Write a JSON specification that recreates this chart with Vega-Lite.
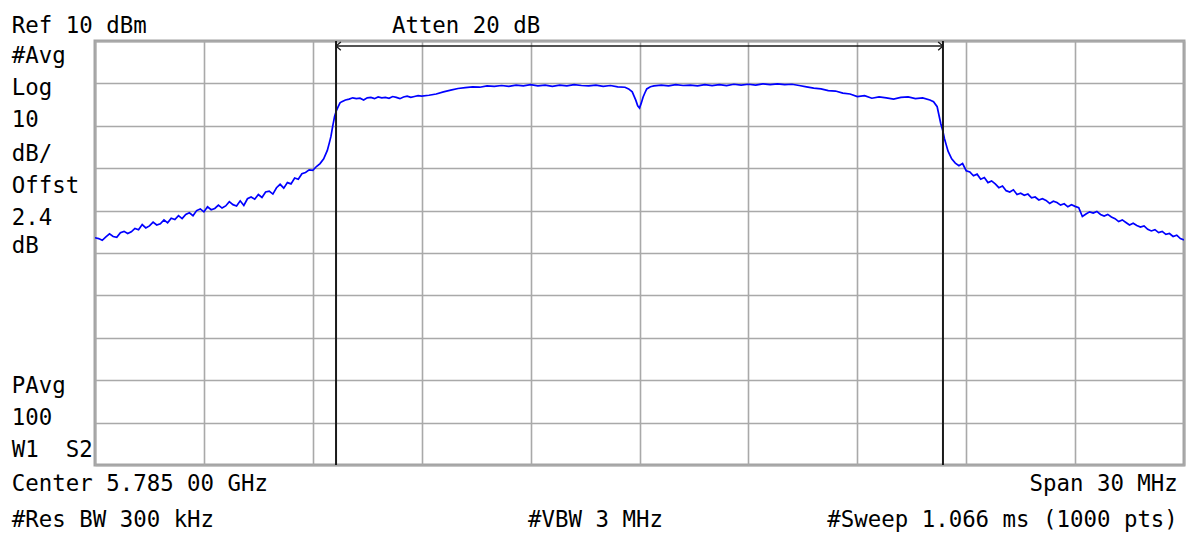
{
  "$schema": "https://vega.github.io/schema/vega-lite/v6.json",
  "width": 1089,
  "height": 424,
  "autosize": {"type": "none"},
  "padding": {"left": 95, "top": 41, "right": 2, "bottom": 69},
  "background": "white",
  "config": {
    "view": {"stroke": "#a3a3a3", "strokeWidth": 3},
    "axis": {"labels": false, "ticks": false, "domain": false, "title": null, "grid": true, "gridColor": "#a9a9a9", "gridWidth": 1.6, "gridOpacity": 1}
  },
  "datasets": {
    "trace": [
      {"mhz": 5770.0, "dbm": -36.4}, {"mhz": 5770.1, "dbm": -36.6}, {"mhz": 5770.2, "dbm": -37.0}, {"mhz": 5770.3, "dbm": -36.2},
      {"mhz": 5770.4, "dbm": -35.5}, {"mhz": 5770.5, "dbm": -36.1}, {"mhz": 5770.6, "dbm": -36.3}, {"mhz": 5770.7, "dbm": -35.2},
      {"mhz": 5770.8, "dbm": -34.9}, {"mhz": 5770.9, "dbm": -35.4}, {"mhz": 5771.0, "dbm": -35.0}, {"mhz": 5771.1, "dbm": -34.2},
      {"mhz": 5771.2, "dbm": -34.5}, {"mhz": 5771.3, "dbm": -33.3}, {"mhz": 5771.4, "dbm": -34.1}, {"mhz": 5771.5, "dbm": -33.6},
      {"mhz": 5771.6, "dbm": -32.7}, {"mhz": 5771.7, "dbm": -33.4}, {"mhz": 5771.8, "dbm": -33.1}, {"mhz": 5771.9, "dbm": -32.2},
      {"mhz": 5772.0, "dbm": -32.9}, {"mhz": 5772.1, "dbm": -31.8}, {"mhz": 5772.2, "dbm": -32.1}, {"mhz": 5772.3, "dbm": -31.2},
      {"mhz": 5772.4, "dbm": -31.9}, {"mhz": 5772.5, "dbm": -30.9}, {"mhz": 5772.6, "dbm": -30.5}, {"mhz": 5772.7, "dbm": -31.2},
      {"mhz": 5772.8, "dbm": -30.0}, {"mhz": 5772.9, "dbm": -29.6}, {"mhz": 5773.0, "dbm": -30.3}, {"mhz": 5773.1, "dbm": -29.1},
      {"mhz": 5773.2, "dbm": -29.8}, {"mhz": 5773.3, "dbm": -29.5}, {"mhz": 5773.4, "dbm": -28.7}, {"mhz": 5773.5, "dbm": -29.4},
      {"mhz": 5773.6, "dbm": -28.9}, {"mhz": 5773.7, "dbm": -27.9}, {"mhz": 5773.8, "dbm": -28.6}, {"mhz": 5773.9, "dbm": -28.9},
      {"mhz": 5774.0, "dbm": -27.7}, {"mhz": 5774.1, "dbm": -28.8}, {"mhz": 5774.2, "dbm": -27.2}, {"mhz": 5774.3, "dbm": -26.8},
      {"mhz": 5774.4, "dbm": -27.3}, {"mhz": 5774.5, "dbm": -26.2}, {"mhz": 5774.6, "dbm": -26.9}, {"mhz": 5774.7, "dbm": -25.6},
      {"mhz": 5774.8, "dbm": -25.4}, {"mhz": 5774.9, "dbm": -26.1}, {"mhz": 5775.0, "dbm": -24.6}, {"mhz": 5775.1, "dbm": -23.8},
      {"mhz": 5775.2, "dbm": -24.7}, {"mhz": 5775.3, "dbm": -23.4}, {"mhz": 5775.4, "dbm": -23.7}, {"mhz": 5775.5, "dbm": -22.3},
      {"mhz": 5775.6, "dbm": -22.6}, {"mhz": 5775.7, "dbm": -21.3}, {"mhz": 5775.8, "dbm": -21.0}, {"mhz": 5775.9, "dbm": -20.4},
      {"mhz": 5776.0, "dbm": -20.5}, {"mhz": 5776.1, "dbm": -19.6}, {"mhz": 5776.2, "dbm": -18.9}, {"mhz": 5776.3, "dbm": -17.8},
      {"mhz": 5776.4, "dbm": -15.8}, {"mhz": 5776.45, "dbm": -14.2}, {"mhz": 5776.5, "dbm": -12.5}, {"mhz": 5776.55, "dbm": -10.0},
      {"mhz": 5776.6, "dbm": -7.8}, {"mhz": 5776.65, "dbm": -6.4}, {"mhz": 5776.7, "dbm": -5.5}, {"mhz": 5776.75, "dbm": -4.6},
      {"mhz": 5776.8, "dbm": -4.3}, {"mhz": 5776.9, "dbm": -3.9}, {"mhz": 5777.0, "dbm": -3.7}, {"mhz": 5777.1, "dbm": -3.4},
      {"mhz": 5777.2, "dbm": -3.6}, {"mhz": 5777.3, "dbm": -3.5}, {"mhz": 5777.4, "dbm": -3.9}, {"mhz": 5777.5, "dbm": -3.4},
      {"mhz": 5777.6, "dbm": -3.3}, {"mhz": 5777.7, "dbm": -3.6}, {"mhz": 5777.8, "dbm": -3.2}, {"mhz": 5777.9, "dbm": -3.4},
      {"mhz": 5778.0, "dbm": -3.3}, {"mhz": 5778.1, "dbm": -3.5}, {"mhz": 5778.2, "dbm": -3.1}, {"mhz": 5778.3, "dbm": -3.3},
      {"mhz": 5778.4, "dbm": -3.6}, {"mhz": 5778.5, "dbm": -3.2}, {"mhz": 5778.6, "dbm": -3.0}, {"mhz": 5778.7, "dbm": -3.3},
      {"mhz": 5778.8, "dbm": -3.1}, {"mhz": 5778.9, "dbm": -2.9}, {"mhz": 5779.0, "dbm": -3.0}, {"mhz": 5779.2, "dbm": -2.8},
      {"mhz": 5779.4, "dbm": -2.5}, {"mhz": 5779.6, "dbm": -2.0}, {"mhz": 5779.8, "dbm": -1.6}, {"mhz": 5780.0, "dbm": -1.2},
      {"mhz": 5780.2, "dbm": -1.0}, {"mhz": 5780.4, "dbm": -0.8}, {"mhz": 5780.6, "dbm": -0.9}, {"mhz": 5780.8, "dbm": -0.6},
      {"mhz": 5781.0, "dbm": -0.7}, {"mhz": 5781.2, "dbm": -0.5}, {"mhz": 5781.4, "dbm": -0.7}, {"mhz": 5781.6, "dbm": -0.4},
      {"mhz": 5781.8, "dbm": -0.6}, {"mhz": 5782.0, "dbm": -0.3}, {"mhz": 5782.2, "dbm": -0.6}, {"mhz": 5782.4, "dbm": -0.4},
      {"mhz": 5782.6, "dbm": -0.7}, {"mhz": 5782.8, "dbm": -0.4}, {"mhz": 5783.0, "dbm": -0.6}, {"mhz": 5783.2, "dbm": -0.3},
      {"mhz": 5783.4, "dbm": -0.5}, {"mhz": 5783.6, "dbm": -0.6}, {"mhz": 5783.8, "dbm": -0.4}, {"mhz": 5784.0, "dbm": -0.7},
      {"mhz": 5784.2, "dbm": -0.5}, {"mhz": 5784.4, "dbm": -0.8}, {"mhz": 5784.6, "dbm": -0.9}, {"mhz": 5784.7, "dbm": -1.3},
      {"mhz": 5784.8, "dbm": -2.0}, {"mhz": 5784.85, "dbm": -3.0}, {"mhz": 5784.9, "dbm": -4.0}, {"mhz": 5784.95, "dbm": -5.3},
      {"mhz": 5785.0, "dbm": -5.8}, {"mhz": 5785.05, "dbm": -4.6}, {"mhz": 5785.1, "dbm": -3.2}, {"mhz": 5785.15, "dbm": -2.2},
      {"mhz": 5785.2, "dbm": -1.3}, {"mhz": 5785.3, "dbm": -0.8}, {"mhz": 5785.4, "dbm": -0.6}, {"mhz": 5785.6, "dbm": -0.4},
      {"mhz": 5785.8, "dbm": -0.6}, {"mhz": 5786.0, "dbm": -0.3}, {"mhz": 5786.2, "dbm": -0.5}, {"mhz": 5786.4, "dbm": -0.4},
      {"mhz": 5786.6, "dbm": -0.6}, {"mhz": 5786.8, "dbm": -0.3}, {"mhz": 5787.0, "dbm": -0.5}, {"mhz": 5787.2, "dbm": -0.3},
      {"mhz": 5787.4, "dbm": -0.5}, {"mhz": 5787.6, "dbm": -0.2}, {"mhz": 5787.8, "dbm": -0.4}, {"mhz": 5788.0, "dbm": -0.2},
      {"mhz": 5788.2, "dbm": -0.4}, {"mhz": 5788.4, "dbm": -0.1}, {"mhz": 5788.6, "dbm": -0.3}, {"mhz": 5788.8, "dbm": -0.1},
      {"mhz": 5789.0, "dbm": -0.3}, {"mhz": 5789.2, "dbm": -0.2}, {"mhz": 5789.4, "dbm": -0.5}, {"mhz": 5789.6, "dbm": -0.8},
      {"mhz": 5789.8, "dbm": -1.1}, {"mhz": 5790.0, "dbm": -1.3}, {"mhz": 5790.2, "dbm": -1.7}, {"mhz": 5790.4, "dbm": -1.8},
      {"mhz": 5790.6, "dbm": -2.3}, {"mhz": 5790.8, "dbm": -2.5}, {"mhz": 5791.0, "dbm": -3.1}, {"mhz": 5791.2, "dbm": -2.9},
      {"mhz": 5791.4, "dbm": -3.5}, {"mhz": 5791.6, "dbm": -3.2}, {"mhz": 5791.8, "dbm": -3.4}, {"mhz": 5792.0, "dbm": -3.7},
      {"mhz": 5792.2, "dbm": -3.3}, {"mhz": 5792.4, "dbm": -3.2}, {"mhz": 5792.6, "dbm": -3.6}, {"mhz": 5792.8, "dbm": -3.4},
      {"mhz": 5793.0, "dbm": -3.9}, {"mhz": 5793.1, "dbm": -4.3}, {"mhz": 5793.2, "dbm": -5.5}, {"mhz": 5793.25, "dbm": -7.5},
      {"mhz": 5793.3, "dbm": -9.5}, {"mhz": 5793.35, "dbm": -11.0}, {"mhz": 5793.4, "dbm": -13.0}, {"mhz": 5793.45, "dbm": -14.5},
      {"mhz": 5793.5, "dbm": -16.0}, {"mhz": 5793.6, "dbm": -17.8}, {"mhz": 5793.7, "dbm": -18.8}, {"mhz": 5793.8, "dbm": -19.4},
      {"mhz": 5793.9, "dbm": -18.9}, {"mhz": 5794.0, "dbm": -20.6}, {"mhz": 5794.1, "dbm": -20.9}, {"mhz": 5794.2, "dbm": -21.8},
      {"mhz": 5794.3, "dbm": -21.4}, {"mhz": 5794.4, "dbm": -22.6}, {"mhz": 5794.5, "dbm": -22.2}, {"mhz": 5794.6, "dbm": -23.4},
      {"mhz": 5794.7, "dbm": -23.0}, {"mhz": 5794.8, "dbm": -23.7}, {"mhz": 5794.9, "dbm": -24.6}, {"mhz": 5795.0, "dbm": -24.2},
      {"mhz": 5795.1, "dbm": -25.3}, {"mhz": 5795.2, "dbm": -25.6}, {"mhz": 5795.3, "dbm": -25.1}, {"mhz": 5795.4, "dbm": -26.2},
      {"mhz": 5795.5, "dbm": -25.9}, {"mhz": 5795.6, "dbm": -26.4}, {"mhz": 5795.7, "dbm": -26.1}, {"mhz": 5795.8, "dbm": -27.0},
      {"mhz": 5795.9, "dbm": -26.8}, {"mhz": 5796.0, "dbm": -27.5}, {"mhz": 5796.1, "dbm": -27.2}, {"mhz": 5796.2, "dbm": -27.6},
      {"mhz": 5796.3, "dbm": -28.3}, {"mhz": 5796.4, "dbm": -27.8}, {"mhz": 5796.5, "dbm": -28.1}, {"mhz": 5796.6, "dbm": -28.7},
      {"mhz": 5796.7, "dbm": -28.4}, {"mhz": 5796.8, "dbm": -29.1}, {"mhz": 5796.9, "dbm": -28.6}, {"mhz": 5797.0, "dbm": -29.0},
      {"mhz": 5797.1, "dbm": -29.3}, {"mhz": 5797.2, "dbm": -31.4}, {"mhz": 5797.3, "dbm": -30.8}, {"mhz": 5797.4, "dbm": -30.3},
      {"mhz": 5797.5, "dbm": -30.6}, {"mhz": 5797.6, "dbm": -30.2}, {"mhz": 5797.7, "dbm": -30.9}, {"mhz": 5797.8, "dbm": -31.3},
      {"mhz": 5797.9, "dbm": -30.9}, {"mhz": 5798.0, "dbm": -31.5}, {"mhz": 5798.1, "dbm": -31.9}, {"mhz": 5798.2, "dbm": -32.6},
      {"mhz": 5798.3, "dbm": -32.2}, {"mhz": 5798.4, "dbm": -32.8}, {"mhz": 5798.5, "dbm": -33.4}, {"mhz": 5798.6, "dbm": -33.0},
      {"mhz": 5798.7, "dbm": -33.5}, {"mhz": 5798.8, "dbm": -33.9}, {"mhz": 5798.9, "dbm": -33.6}, {"mhz": 5799.0, "dbm": -34.4},
      {"mhz": 5799.1, "dbm": -34.8}, {"mhz": 5799.2, "dbm": -34.5}, {"mhz": 5799.3, "dbm": -35.2}, {"mhz": 5799.4, "dbm": -34.9},
      {"mhz": 5799.5, "dbm": -35.6}, {"mhz": 5799.6, "dbm": -35.4}, {"mhz": 5799.7, "dbm": -36.1}, {"mhz": 5799.8, "dbm": -35.8},
      {"mhz": 5799.9, "dbm": -36.6}, {"mhz": 5800.0, "dbm": -36.9}
    ],
    "markers": [{"mhz": 5776.64}, {"mhz": 5793.36}],
    "bar": [{"start": 5776.64, "end": 5793.36, "dbm": 8.8}],
    "labels_left": [
      {"label": "Ref 10 dBm", "mhz": 5767.71, "dbm": 11.89},
      {"label": "Atten 20 dB", "mhz": 5778.18, "dbm": 11.89},
      {"label": "#Avg", "mhz": 5767.71, "dbm": 4.81},
      {"label": "Log", "mhz": 5767.71, "dbm": -2.74},
      {"label": "10", "mhz": 5767.71, "dbm": -10.28},
      {"label": "dB/", "mhz": 5767.71, "dbm": -18.3},
      {"label": "Offst", "mhz": 5767.71, "dbm": -25.85},
      {"label": "2.4", "mhz": 5767.71, "dbm": -33.4},
      {"label": "dB", "mhz": 5767.71, "dbm": -40.0},
      {"label": "PAvg", "mhz": 5767.71, "dbm": -73.02},
      {"label": "100", "mhz": 5767.71, "dbm": -80.57},
      {"label": "W1\u00a0\u00a0S2", "mhz": 5767.71, "dbm": -88.11},
      {"label": "Center 5.785 00 GHz", "mhz": 5767.71, "dbm": -96.13},
      {"label": "#Res BW 300 kHz", "mhz": 5767.71, "dbm": -104.62},
      {"label": "#VBW 3 MHz", "mhz": 5781.93, "dbm": -104.62}
    ],
    "labels_right": [
      {"label": "Span 30 MHz", "mhz": 5799.83, "dbm": -96.13},
      {"label": "#Sweep 1.066 ms (1000 pts)", "mhz": 5799.83, "dbm": -104.62}
    ]
  },
  "layer": [
    {
      "data": {"name": "trace"},
      "mark": {"type": "line", "stroke": "#0000ff", "strokeWidth": 1.7, "clip": true},
      "encoding": {
        "x": {"field": "mhz", "type": "quantitative", "scale": {"domain": [5770, 5800], "nice": false, "zero": false},
              "axis": {"values": [5770, 5773, 5776, 5779, 5782, 5785, 5788, 5791, 5794, 5797, 5800], "grid": true, "labels": false, "ticks": false, "domain": false, "title": null}},
        "y": {"field": "dbm", "type": "quantitative", "scale": {"domain": [-90, 10], "nice": false, "zero": false},
              "axis": {"values": [-90, -80, -70, -60, -50, -40, -30, -20, -10, 0, 10], "grid": true, "labels": false, "ticks": false, "domain": false, "title": null}}
      }
    },
    {
      "data": {"name": "markers"},
      "mark": {"type": "rule", "stroke": "#1a1a1a", "strokeWidth": 2},
      "encoding": {
        "x": {"field": "mhz", "type": "quantitative", "scale": {"domain": [5770, 5800], "nice": false, "zero": false}}
      }
    },
    {
      "data": {"name": "bar"},
      "mark": {"type": "rule", "stroke": "#1a1a1a", "strokeWidth": 1.5},
      "encoding": {
        "x": {"field": "start", "type": "quantitative", "scale": {"domain": [5770, 5800], "nice": false, "zero": false}},
        "x2": {"field": "end"},
        "y": {"field": "dbm", "type": "quantitative", "scale": {"domain": [-90, 10], "nice": false, "zero": false}}
      }
    },
    {
      "data": {"name": "bar"},
      "mark": {"type": "point", "shape": "M1.6,-1.4L0,0L1.6,1.4", "size": 36, "filled": false, "stroke": "#1a1a1a", "strokeWidth": 1.3, "opacity": 1},
      "encoding": {
        "x": {"field": "start", "type": "quantitative", "scale": {"domain": [5770, 5800], "nice": false, "zero": false}},
        "y": {"field": "dbm", "type": "quantitative", "scale": {"domain": [-90, 10], "nice": false, "zero": false}}
      }
    },
    {
      "data": {"name": "bar"},
      "mark": {"type": "point", "shape": "M-1.6,-1.4L0,0L-1.6,1.4", "size": 36, "filled": false, "stroke": "#1a1a1a", "strokeWidth": 1.3, "opacity": 1},
      "encoding": {
        "x": {"field": "end", "type": "quantitative", "scale": {"domain": [5770, 5800], "nice": false, "zero": false}},
        "y": {"field": "dbm", "type": "quantitative", "scale": {"domain": [-90, 10], "nice": false, "zero": false}}
      }
    },
    {
      "data": {"name": "labels_left"},
      "mark": {"type": "text", "align": "left", "baseline": "alphabetic", "font": "DejaVu Sans Mono", "fontSize": 22.4, "fill": "#000000"},
      "encoding": {
        "x": {"field": "mhz", "type": "quantitative", "scale": {"domain": [5770, 5800], "nice": false, "zero": false}},
        "y": {"field": "dbm", "type": "quantitative", "scale": {"domain": [-90, 10], "nice": false, "zero": false}},
        "text": {"field": "label"}
      }
    },
    {
      "data": {"name": "labels_right"},
      "mark": {"type": "text", "align": "right", "baseline": "alphabetic", "font": "DejaVu Sans Mono", "fontSize": 22.4, "fill": "#000000"},
      "encoding": {
        "x": {"field": "mhz", "type": "quantitative", "scale": {"domain": [5770, 5800], "nice": false, "zero": false}},
        "y": {"field": "dbm", "type": "quantitative", "scale": {"domain": [-90, 10], "nice": false, "zero": false}},
        "text": {"field": "label"}
      }
    }
  ]
}
